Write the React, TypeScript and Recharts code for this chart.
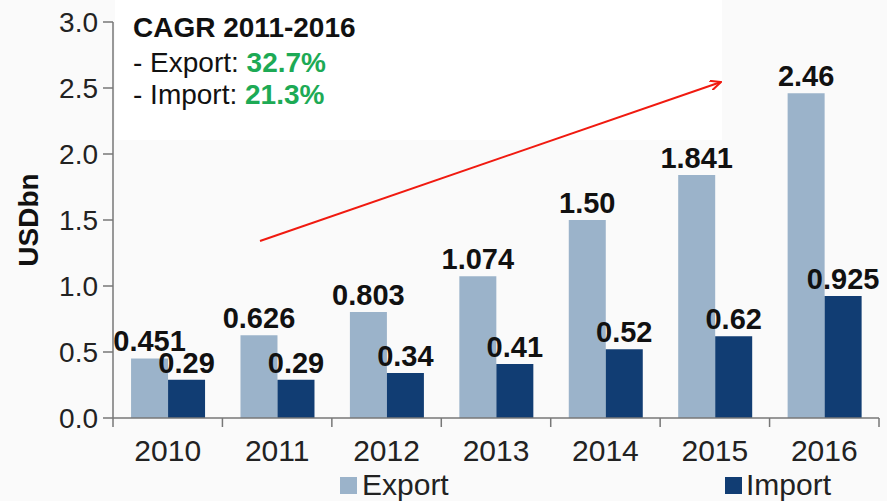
import React from 'react';
import { BarChart, Bar, XAxis, YAxis, LabelList, Label } from 'recharts';

const years = ['2010', '2011', '2012', '2013', '2014', '2015', '2016'];
const exportValues = [0.451, 0.626, 0.803, 1.074, 1.5, 1.841, 2.46];
const importValues = [0.29, 0.29, 0.34, 0.41, 0.52, 0.62, 0.925];
const exportLabels = ['0.451', '0.626', '0.803', '1.074', '1.50', '1.841', '2.46'];
const importLabels = ['0.29', '0.29', '0.34', '0.41', '0.52', '0.62', '0.925'];
const yTicks = [0, 0.5, 1, 1.5, 2, 2.5, 3];

const data = years.map((year, i) => ({
  year,
  export: exportValues[i],
  import: importValues[i],
  exportLabel: exportLabels[i],
  importLabel: importLabels[i],
}));

const FONT = '"Liberation Sans", Arial, sans-serif';
const W = 887;
const H = 501;
const M = { top: 22, right: 8, left: 0, bottom: 40 };
const Y_W = 113;
const BAND = (W - M.left - M.right - Y_W) / years.length;

const EXPORT_COLOR = '#9bb3ca';
const IMPORT_COLOR = '#113d73';
const AXIS_COLOR = '#777';

function YearTick(props: any) {
  const { x, y, payload, index } = props;
  const last = index === years.length - 1;
  return (
    <g>
      <line x1={x - BAND / 2} y1={y} x2={x - BAND / 2} y2={y + 9} stroke={AXIS_COLOR} strokeWidth={1.5} />
      {last && <line x1={x + BAND / 2} y1={y} x2={x + BAND / 2} y2={y + 9} stroke={AXIS_COLOR} strokeWidth={1.5} />}
      <text x={x} y={y + 43} textAnchor="middle" fontSize={30} fill="#222" fontFamily={FONT}>
        {payload.value}
      </text>
    </g>
  );
}

export default function App() {
  return (
    <div style={{ position: 'absolute', left: 0, top: 0, width: W, height: H, background: '#fafafa', fontFamily: FONT }}>
      <div style={{ position: 'absolute', left: 115, top: 0, width: 607, height: 140, background: '#fff' }} />
      <div style={{ position: 'absolute', left: 0, top: 0 }}>
        <BarChart width={W} height={H} data={data} margin={M} barCategoryGap="16.5%" barGap={0}>
          <XAxis
            dataKey="year"
            axisLine={{ stroke: AXIS_COLOR, strokeWidth: 1.5 }}
            tickLine={false}
            tickSize={0}
            tickMargin={0}
            height={43}
            interval={0}
            tick={<YearTick />}
          />
          <YAxis
            width={Y_W}
            domain={[0, 3]}
            ticks={yTicks}
            interval={0}
            tickFormatter={(v: number) => v.toFixed(1)}
            axisLine={{ stroke: AXIS_COLOR, strokeWidth: 1.5 }}
            tickLine={{ stroke: AXIS_COLOR, strokeWidth: 1.5 }}
            tickSize={10}
            tickMargin={5}
            tick={{ fontSize: 28, fill: '#222', fontFamily: FONT }}
          >
            <Label
              value="USDbn"
              angle={-90}
              position="insideLeft"
              offset={28}
              style={{ textAnchor: 'middle', fontSize: 28, fontWeight: 'bold', fill: '#111', fontFamily: FONT }}
            />
          </YAxis>
          <Bar dataKey="export" fill={EXPORT_COLOR} isAnimationActive={false}>
            <LabelList dataKey="exportLabel" position="top" offset={7} fill="#111" fontSize={29} fontWeight="bold" fontFamily={FONT} />
          </Bar>
          <Bar dataKey="import" fill={IMPORT_COLOR} isAnimationActive={false}>
            <LabelList dataKey="importLabel" position="top" offset={7} fill="#111" fontSize={29} fontWeight="bold" fontFamily={FONT} />
          </Bar>
        </BarChart>
      </div>
      <svg width={W} height={H} style={{ position: 'absolute', left: 0, top: 0, pointerEvents: 'none' }}>
        <defs>
          <marker id="arrowHead" markerWidth="12" markerHeight="10" refX="11" refY="5" orient="auto" markerUnits="userSpaceOnUse">
            <path d="M0,0 L11,5 L0,10" fill="none" stroke="#f01a10" strokeWidth={2} />
          </marker>
        </defs>
        <line x1={260} y1={241} x2={721} y2={82} stroke="#f01a10" strokeWidth={2} markerEnd="url(#arrowHead)" />
        <text x={133} y={37} fontSize={28} fontWeight="bold" fill="#111" fontFamily={FONT}>CAGR 2011-2016</text>
        <text x={133} y={72} fontSize={28} fill="#111" fontFamily={FONT}>
          - Export: <tspan fontWeight="bold" fill="#1daa55">32.7%</tspan>
        </text>
        <text x={133} y={104} fontSize={28} fill="#111" fontFamily={FONT}>
          - Import: <tspan fontWeight="bold" fill="#1daa55">21.3%</tspan>
        </text>
        <rect x={340} y={477} width={17} height={17} fill={EXPORT_COLOR} />
        <text x={362} y={495} fontSize={30} fill="#222" fontFamily={FONT}>Export</text>
        <rect x={725} y={477} width={17} height={17} fill={IMPORT_COLOR} />
        <text x={746} y={495} fontSize={30} fill="#222" fontFamily={FONT}>Import</text>
      </svg>
    </div>
  );
}
